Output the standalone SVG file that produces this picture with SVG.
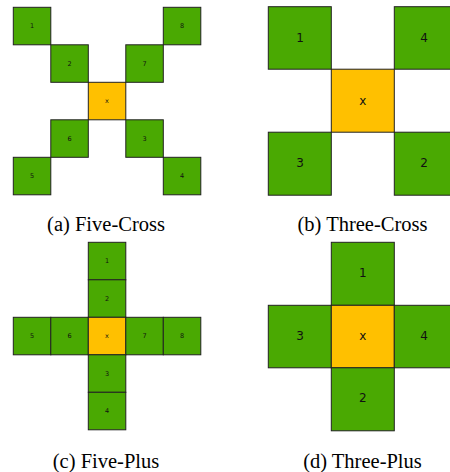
<svg xmlns="http://www.w3.org/2000/svg" width="450" height="472" viewBox="0 0 450 472">
<style>
.g{fill:#4aa902;stroke:#222;stroke-width:1}
.o{fill:#ffc000;stroke:#222;stroke-width:1}
.s{font-family:"DejaVu Sans",sans-serif;font-size:6.5px;fill:#111;text-anchor:middle;dominant-baseline:central}
.b{font-family:"DejaVu Sans",sans-serif;font-size:12px;fill:#111;text-anchor:middle;dominant-baseline:central}
.c{font-family:"Liberation Serif",serif;font-size:20.5px;fill:#000;text-anchor:middle}
</style>
<rect width="450" height="472" fill="#fff"/>
<g id="panel-a">
<g id="a1"><rect class="g" x="13.3" y="7.3" width="37.5" height="37.5"/><text class="s" x="32" y="26">1</text></g>
<g id="a2"><rect class="g" x="50.8" y="44.8" width="37.5" height="37.5"/><text class="s" x="69.5" y="63.5">2</text></g>
<g id="ax"><rect class="o" x="88.3" y="82.3" width="37.5" height="37.5"/><text class="s" x="107" y="101">x</text></g>
<g id="a7"><rect class="g" x="125.8" y="44.8" width="37.5" height="37.5"/><text class="s" x="144.5" y="63.5">7</text></g>
<g id="a8"><rect class="g" x="163.3" y="7.3" width="37.5" height="37.5"/><text class="s" x="182" y="26">8</text></g>
<g id="a6"><rect class="g" x="50.8" y="119.8" width="37.5" height="37.5"/><text class="s" x="69.5" y="138.5">6</text></g>
<g id="a5"><rect class="g" x="13.3" y="157.3" width="37.5" height="37.5"/><text class="s" x="32" y="176">5</text></g>
<g id="a3"><rect class="g" x="125.8" y="119.8" width="37.5" height="37.5"/><text class="s" x="144.5" y="138.5">3</text></g>
<g id="a4"><rect class="g" x="163.3" y="157.3" width="37.5" height="37.5"/><text class="s" x="182" y="176">4</text></g>
</g>
<g id="panel-b">
<g id="b1"><rect class="g" x="268.3" y="6.7" width="63" height="62.5"/><text class="b" x="300" y="38">1</text></g>
<g id="b4"><rect class="g" x="394.3" y="6.7" width="63" height="62.5"/><text class="b" x="424" y="38">4</text></g>
<g id="bx"><rect class="o" x="331.3" y="69.2" width="63" height="63"/><text class="b" x="362.8" y="101">x</text></g>
<g id="b3"><rect class="g" x="268.3" y="132.2" width="63" height="63"/><text class="b" x="300" y="163">3</text></g>
<g id="b2"><rect class="g" x="394.3" y="132.2" width="63" height="63"/><text class="b" x="424" y="163">2</text></g>
</g>
<g id="panel-c">
<g id="c1"><rect class="g" x="88.3" y="242.3" width="37.5" height="37.5"/><text class="s" x="107" y="261">1</text></g>
<g id="c2"><rect class="g" x="88.3" y="279.8" width="37.5" height="37.5"/><text class="s" x="107" y="298.5">2</text></g>
<g id="c5"><rect class="g" x="13.3" y="317.3" width="37.5" height="37.5"/><text class="s" x="32" y="336">5</text></g>
<g id="c6"><rect class="g" x="50.8" y="317.3" width="37.5" height="37.5"/><text class="s" x="69.5" y="336">6</text></g>
<g id="cx"><rect class="o" x="88.3" y="317.3" width="37.5" height="37.5"/><text class="s" x="107" y="336">x</text></g>
<g id="c7"><rect class="g" x="125.8" y="317.3" width="37.5" height="37.5"/><text class="s" x="144.5" y="336">7</text></g>
<g id="c8"><rect class="g" x="163.3" y="317.3" width="37.5" height="37.5"/><text class="s" x="182" y="336">8</text></g>
<g id="c3"><rect class="g" x="88.3" y="354.8" width="37.5" height="37.5"/><text class="s" x="107" y="373.5">3</text></g>
<g id="c4"><rect class="g" x="88.3" y="392.3" width="37.5" height="37.5"/><text class="s" x="107" y="411">4</text></g>
</g>
<g id="panel-d">
<g id="d1"><rect class="g" x="331.3" y="242.3" width="63" height="63"/><text class="b" x="362.8" y="273">1</text></g>
<g id="d3"><rect class="g" x="268.3" y="305.3" width="63" height="62.5"/><text class="b" x="300" y="335.5">3</text></g>
<g id="dx"><rect class="o" x="331.3" y="305.3" width="63" height="62.5"/><text class="b" x="362.8" y="336">x</text></g>
<g id="d4"><rect class="g" x="394.3" y="305.3" width="63" height="62.5"/><text class="b" x="424" y="335.5">4</text></g>
<g id="d2"><rect class="g" x="331.3" y="367.8" width="63" height="63"/><text class="b" x="362.8" y="398">2</text></g>
</g>
<g id="connectors"></g>
<g id="captions">
<text class="c" x="106" y="231">(a) Five-Cross</text>
<text class="c" x="362.5" y="231">(b) Three-Cross</text>
<text class="c" x="106" y="468">(c) Five-Plus</text>
<text class="c" x="362.5" y="468">(d) Three-Plus</text>
</g>
</svg>
